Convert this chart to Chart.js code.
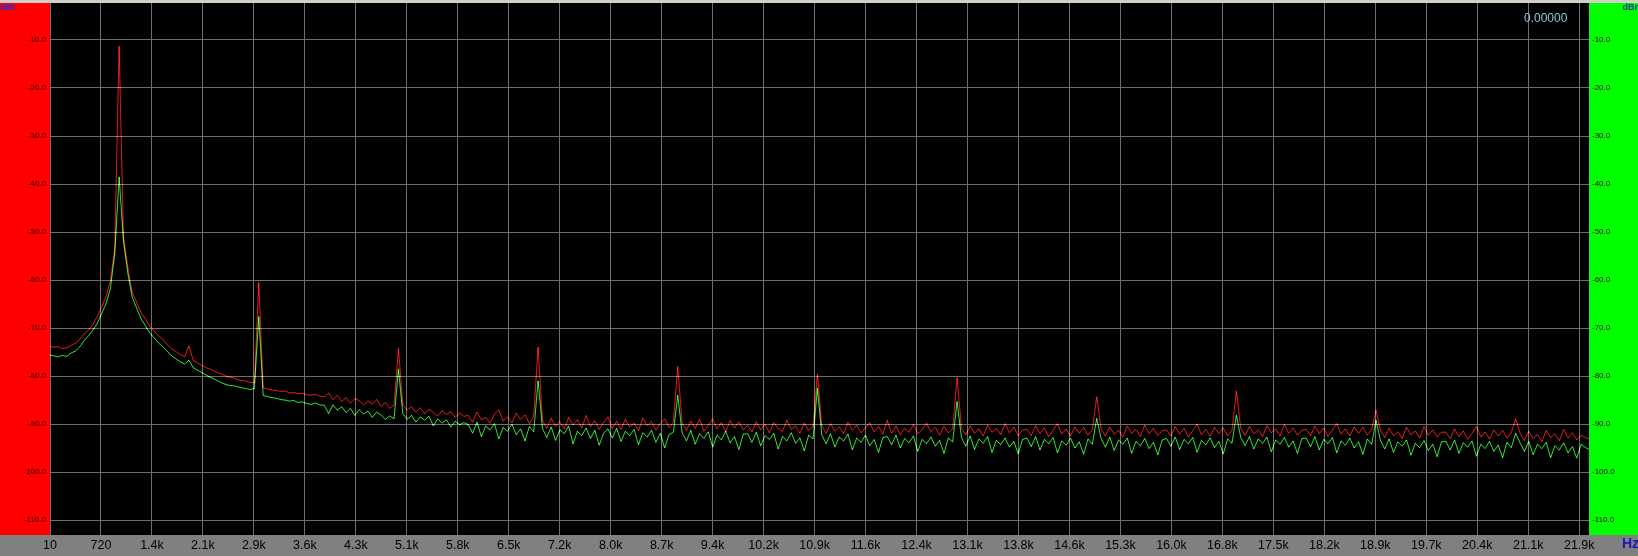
<!DOCTYPE html>
<html>
<head>
<meta charset="utf-8">
<script src="https://cdn.jsdelivr.net/npm/chart.js@4.4.1/dist/chart.umd.min.js"></script>
<style>
  html, body { margin: 0; padding: 0; background: #808080; }
</style>
</head>
<body>
<canvas id="fft" width="1638" height="556"></canvas>
<script>
// FFT bin width of the trace data (Hz)
const binHz = 62.5;

// left channel (red), dBr, one row per 1 kHz
const leftDb = [
  -73.8, -74.0, -73.9, -74.3, -74.1, -73.6, -73.2, -72.3, -71.2, -70.4, -69.2, -67.6, -65.6, -63.4, -60.2, -53.5,
  -11.3, -51.0, -57.4, -62.6, -64.6, -66.7, -68.1, -69.6, -70.6, -71.6, -72.3, -73.4, -74.3, -74.9, -75.5, -76.0,
  -73.7, -76.8, -77.3, -77.8, -78.3, -78.6, -79.1, -79.4, -79.8, -80.2, -80.3, -80.7, -80.9, -81.0, -81.3, -81.4,
  -60.5, -82.4, -82.7, -82.9, -83.0, -83.2, -83.1, -83.5, -83.4, -83.7, -83.6, -83.9, -84.0, -83.8, -84.2, -84.3,
  -83.6, -84.9, -84.0, -85.3, -84.5, -85.6, -84.7, -85.1, -86.0, -85.2, -85.8, -84.9, -86.3, -85.5, -86.7, -86.1,
  -74.2, -86.0, -87.1, -86.4, -87.5, -86.6, -87.9, -86.9, -87.6, -88.3, -87.2, -88.0, -87.4, -88.6, -87.7, -88.4,
  -88.2, -89.6, -87.5, -89.1, -88.6, -89.8, -87.9, -87.0, -89.4, -88.5, -89.7, -87.7, -89.0, -88.1, -89.9, -88.4,
  -74.0, -89.2, -90.9, -88.8, -90.4, -89.5, -91.0, -88.6, -90.2, -89.1, -90.8, -88.2, -90.5, -89.3, -91.1, -89.7,
  -88.5, -90.9, -89.4, -91.1, -89.0, -90.6, -89.8, -91.4, -88.7, -90.3, -89.5, -91.2, -89.9, -88.9, -90.7, -89.6,
  -78.0, -89.8, -91.3, -89.4, -90.9, -89.0, -91.5, -90.2, -88.9, -91.0, -89.7, -91.6, -89.3, -90.8, -89.5, -91.2,
  -90.3, -91.6, -89.5, -91.2, -90.0, -91.8, -89.7, -90.9, -91.5, -89.2, -91.1, -90.4, -91.9, -89.8, -91.3, -90.6,
  -79.6, -90.3, -91.9, -89.9, -91.5, -90.6, -92.0, -89.6, -91.3, -90.2, -91.8, -90.8, -89.7, -91.6, -90.5, -92.1,
  -89.2, -91.9, -90.4, -92.2, -90.9, -91.7, -90.1, -92.0, -91.2, -89.8, -91.6, -90.7, -92.3, -90.5, -91.8, -91.0,
  -80.3, -90.8, -92.3, -90.4, -91.9, -91.0, -92.5, -90.2, -91.7, -90.9, -92.2, -89.9, -91.8, -90.6, -92.4, -91.3,
  -91.1, -92.4, -90.3, -92.0, -90.8, -92.6, -91.3, -89.9, -92.1, -91.0, -92.5, -90.6, -91.9, -90.7, -92.3, -91.2,
  -84.3, -91.0, -92.5, -90.6, -92.1, -91.3, -92.7, -90.4, -91.9, -91.1, -92.6, -90.2, -92.0, -90.9, -92.4, -91.4,
  -91.2, -92.5, -90.5, -92.1, -90.9, -92.7, -91.4, -90.0, -92.2, -91.1, -92.6, -90.7, -92.0, -90.8, -92.4, -91.3,
  -83.1, -90.9, -92.4, -90.5, -92.0, -91.2, -92.6, -90.3, -91.8, -91.0, -92.5, -90.1, -91.9, -90.8, -92.3, -91.3,
  -91.1, -92.4, -90.4, -92.0, -90.8, -92.6, -91.3, -89.9, -92.1, -91.0, -92.5, -90.6, -91.9, -90.7, -92.3, -91.2,
  -87.1, -91.3, -92.8, -90.9, -92.4, -91.6, -93.0, -90.7, -92.2, -91.4, -92.9, -90.5, -92.3, -91.2, -92.7, -91.7,
  -91.7, -93.0, -91.0, -92.6, -91.4, -93.2, -91.9, -90.5, -92.7, -91.6, -93.1, -91.2, -92.5, -91.3, -92.9, -91.8,
  -88.9, -91.9, -93.4, -91.5, -93.0, -92.2, -93.6, -91.3, -92.8, -92.0, -93.5, -91.1, -92.9, -91.8, -93.3, -92.3,
  -92.8, -93.2
];

// right channel (green), dBr
const rightDb = [
  -75.6, -75.8, -76.0, -75.7, -75.9, -75.2, -74.8, -73.9, -72.6, -71.6, -70.4, -69.0, -67.0, -64.9, -61.8, -54.5,
  -38.5, -52.0, -58.6, -63.6, -65.8, -68.0, -69.5, -71.0, -72.0, -73.1, -73.9, -74.8, -75.8, -76.4, -77.0, -77.5,
  -76.7, -78.3, -78.8, -79.3, -79.8, -80.3, -80.7, -81.2, -81.6, -81.9, -82.0, -82.2, -82.4, -82.6, -82.8, -82.6,
  -67.6, -84.0, -84.3, -84.5, -84.6, -84.9, -85.0, -85.2, -85.1, -85.5, -85.4, -85.7, -85.9, -85.6, -86.0, -86.1,
  -87.8, -86.0, -87.1, -86.4, -87.6, -86.7, -88.2, -87.0, -87.9, -87.3, -88.6, -87.5, -88.1, -89.0, -88.3, -88.9,
  -78.5, -87.8, -89.0, -88.2, -89.6, -88.5, -89.2, -88.4, -90.4, -88.9, -89.8, -89.1, -90.6, -89.4, -90.1, -89.7,
  -90.1, -91.9, -89.6, -92.6, -90.4, -91.2, -89.9, -93.1, -90.7, -91.5, -90.0, -92.2, -91.0, -93.5, -90.5, -91.6,
  -81.0, -90.9, -92.8, -90.6, -93.4, -91.2, -92.0, -90.4, -94.1, -91.5, -92.4, -90.8, -93.0, -91.3, -94.4, -91.9,
  -91.0, -92.9, -90.9, -93.6, -91.5, -92.4, -91.1, -94.3, -91.8, -92.7, -91.3, -93.8, -91.9, -95.0, -92.2, -91.7,
  -84.0, -91.8, -93.5, -91.3, -94.2, -92.0, -93.0, -91.6, -94.8, -92.3, -93.3, -91.5, -93.9, -92.6, -95.3, -92.1,
  -92.0, -93.8, -91.7, -94.5, -92.4, -93.2, -91.9, -95.2, -92.6, -93.5, -91.8, -94.0, -92.9, -95.6, -92.3, -93.1,
  -82.5, -92.2, -94.1, -92.0, -94.8, -92.7, -93.5, -92.1, -95.4, -92.9, -93.8, -92.3, -94.5, -93.2, -95.9, -92.8,
  -92.6, -94.3, -92.3, -95.0, -93.0, -93.9, -92.5, -95.7, -93.2, -94.1, -92.7, -94.6, -93.4, -96.1, -92.9, -93.7,
  -85.3, -92.8, -94.6, -92.5, -95.3, -93.1, -94.0, -92.6, -95.9, -93.4, -94.3, -92.9, -94.8, -93.6, -96.2, -93.2,
  -92.9, -94.7, -92.6, -95.4, -93.2, -94.1, -92.8, -96.0, -93.5, -94.4, -92.9, -95.0, -93.7, -96.3, -93.1, -94.2,
  -88.8, -93.0, -94.8, -92.7, -95.5, -93.3, -94.2, -92.9, -96.1, -93.6, -94.5, -93.0, -95.1, -93.8, -96.4, -93.3,
  -93.0, -94.6, -92.7, -95.3, -93.2, -94.1, -92.8, -95.9, -93.4, -94.3, -92.9, -94.9, -93.6, -96.2, -93.1, -94.0,
  -88.1, -92.8, -94.5, -92.6, -95.2, -93.1, -94.0, -92.7, -95.8, -93.3, -94.2, -92.8, -94.8, -93.5, -96.1, -93.0,
  -92.9, -94.7, -92.6, -95.4, -93.2, -94.1, -92.8, -96.0, -93.5, -94.4, -92.9, -95.0, -93.7, -96.3, -93.1, -94.2,
  -89.2, -93.4, -95.2, -93.1, -95.9, -93.7, -94.6, -93.3, -96.5, -94.0, -94.9, -93.4, -95.5, -94.2, -96.8, -93.7,
  -93.6, -95.4, -93.3, -96.1, -93.9, -94.8, -93.5, -96.7, -94.2, -95.1, -93.6, -95.7, -94.4, -97.0, -93.8, -94.9,
  -91.9, -93.9, -95.7, -93.6, -96.4, -94.2, -95.1, -93.8, -97.0, -94.5, -95.4, -93.9, -96.0, -94.7, -97.1, -94.2,
  -94.9, -95.3
];

const freqs = leftDb.map((_, i) => i * binHz);

const dbTicks = [-10, -20, -30, -40, -50, -60, -70, -80, -90, -100, -110];
const hzLabels = ['10', '720', '1.4k', '2.1k', '2.9k', '3.6k', '4.3k', '5.1k', '5.8k', '6.5k', '7.2k',
  '8.0k', '8.7k', '9.4k', '10.2k', '10.9k', '11.6k', '12.4k', '13.1k', '13.8k', '14.6k', '15.3k',
  '16.0k', '16.8k', '17.5k', '18.2k', '18.9k', '19.7k', '20.4k', '21.1k', '21.9k'];
const hzTicks = hzLabels.map((_, i) => 10 + i * 730);

const gridGray = '#707070';
const axisFont = { family: 'Liberation Sans', size: 8 };

// no extra room for edge labels, the plot fills the frame
const noPad = (s) => { s.paddingTop = 0; s.paddingBottom = 0; s.paddingLeft = 0; s.paddingRight = 0; };

const panels = {
  id: 'panels',
  beforeDraw(chart) {
    const { ctx, chartArea: a, width, height } = chart;
    ctx.save();
    ctx.fillStyle = '#808080';
    ctx.fillRect(0, 0, width, height);
    ctx.fillStyle = '#d4d0c8';
    ctx.fillRect(0, 0, width, a.top);
    ctx.fillStyle = '#ff0000';
    ctx.fillRect(0, a.top, a.left, a.bottom - a.top);
    ctx.fillStyle = '#00ff00';
    ctx.fillRect(a.right, a.top, width - a.right, a.bottom - a.top);
    ctx.fillStyle = '#000000';
    ctx.fillRect(a.left, a.top, a.right - a.left, a.bottom - a.top);
    ctx.restore();
  },
  beforeDatasetsDraw(chart) {
    chart.ctx.save();
    chart.ctx.globalCompositeOperation = 'lighter';
  },
  afterDatasetsDraw(chart) {
    chart.ctx.restore();
  },
  afterDraw(chart) {
    const { ctx, chartArea: a, width } = chart;
    ctx.save();
    ctx.textBaseline = 'middle';
    ctx.font = 'bold 9px "Liberation Sans"';
    ctx.fillStyle = '#2a2ad0';
    ctx.textAlign = 'left';
    ctx.fillText('dBr', 0, 8);
    ctx.fillStyle = '#1c3c8c';
    ctx.textAlign = 'right';
    ctx.fillText('dBr', width, 8);
    ctx.font = '12px "Liberation Sans"';
    ctx.fillStyle = '#88c8dc';
    ctx.textAlign = 'left';
    ctx.fillText('0.00000', 1524, 19);
    ctx.font = 'bold 14px "Liberation Sans"';
    ctx.fillStyle = '#1a1ab4';
    ctx.fillText('Hz', 1622, a.bottom + 9);
    ctx.restore();
  }
};

const yScale = (pos, pad, width) => ({
  position: pos,
  min: -113.1,
  max: -2.3,
  afterBuildTicks: (s) => { s.ticks = dbTicks.map(v => ({ value: v })); },
  afterFit: (s) => { s.width = width; noPad(s); },
  ticks: { callback: (v) => v.toFixed(1), color: '#200000', font: axisFont, padding: pad },
  grid: { display: pos === 'left', color: gridGray, drawTicks: false },
  border: { display: false }
});

new Chart(document.getElementById('fft'), {
  type: 'line',
  data: {
    labels: freqs,
    datasets: [
      { label: 'Right', data: rightDb, borderColor: '#30e030', borderWidth: 1, pointRadius: 0, yAxisID: 'y' },
      { label: 'Left', data: leftDb, borderColor: '#e01818', borderWidth: 1, pointRadius: 0, yAxisID: 'y' }
    ]
  },
  options: {
    responsive: false,
    animation: false,
    layout: { padding: { top: 3 } },
    plugins: { legend: { display: false }, tooltip: { enabled: false } },
    scales: {
      x: {
        type: 'linear',
        min: 10,
        max: 22050,
        afterBuildTicks: (s) => { s.ticks = hzTicks.map(v => ({ value: v })); },
        afterFit: (s) => { s.height = 21; noPad(s); },
        ticks: {
          callback: (v, i) => hzLabels[i],
          color: '#000000',
          font: { family: 'Liberation Sans', size: 12.5 },
          autoSkip: false,
          maxRotation: 0,
          padding: 3
        },
        grid: { color: gridGray, drawTicks: false },
        border: { display: false }
      },
      y: yScale('left', 4, 50),
      y2: yScale('right', 3, 49)
    }
  },
  plugins: [panels]
});
</script>
</body>
</html>
